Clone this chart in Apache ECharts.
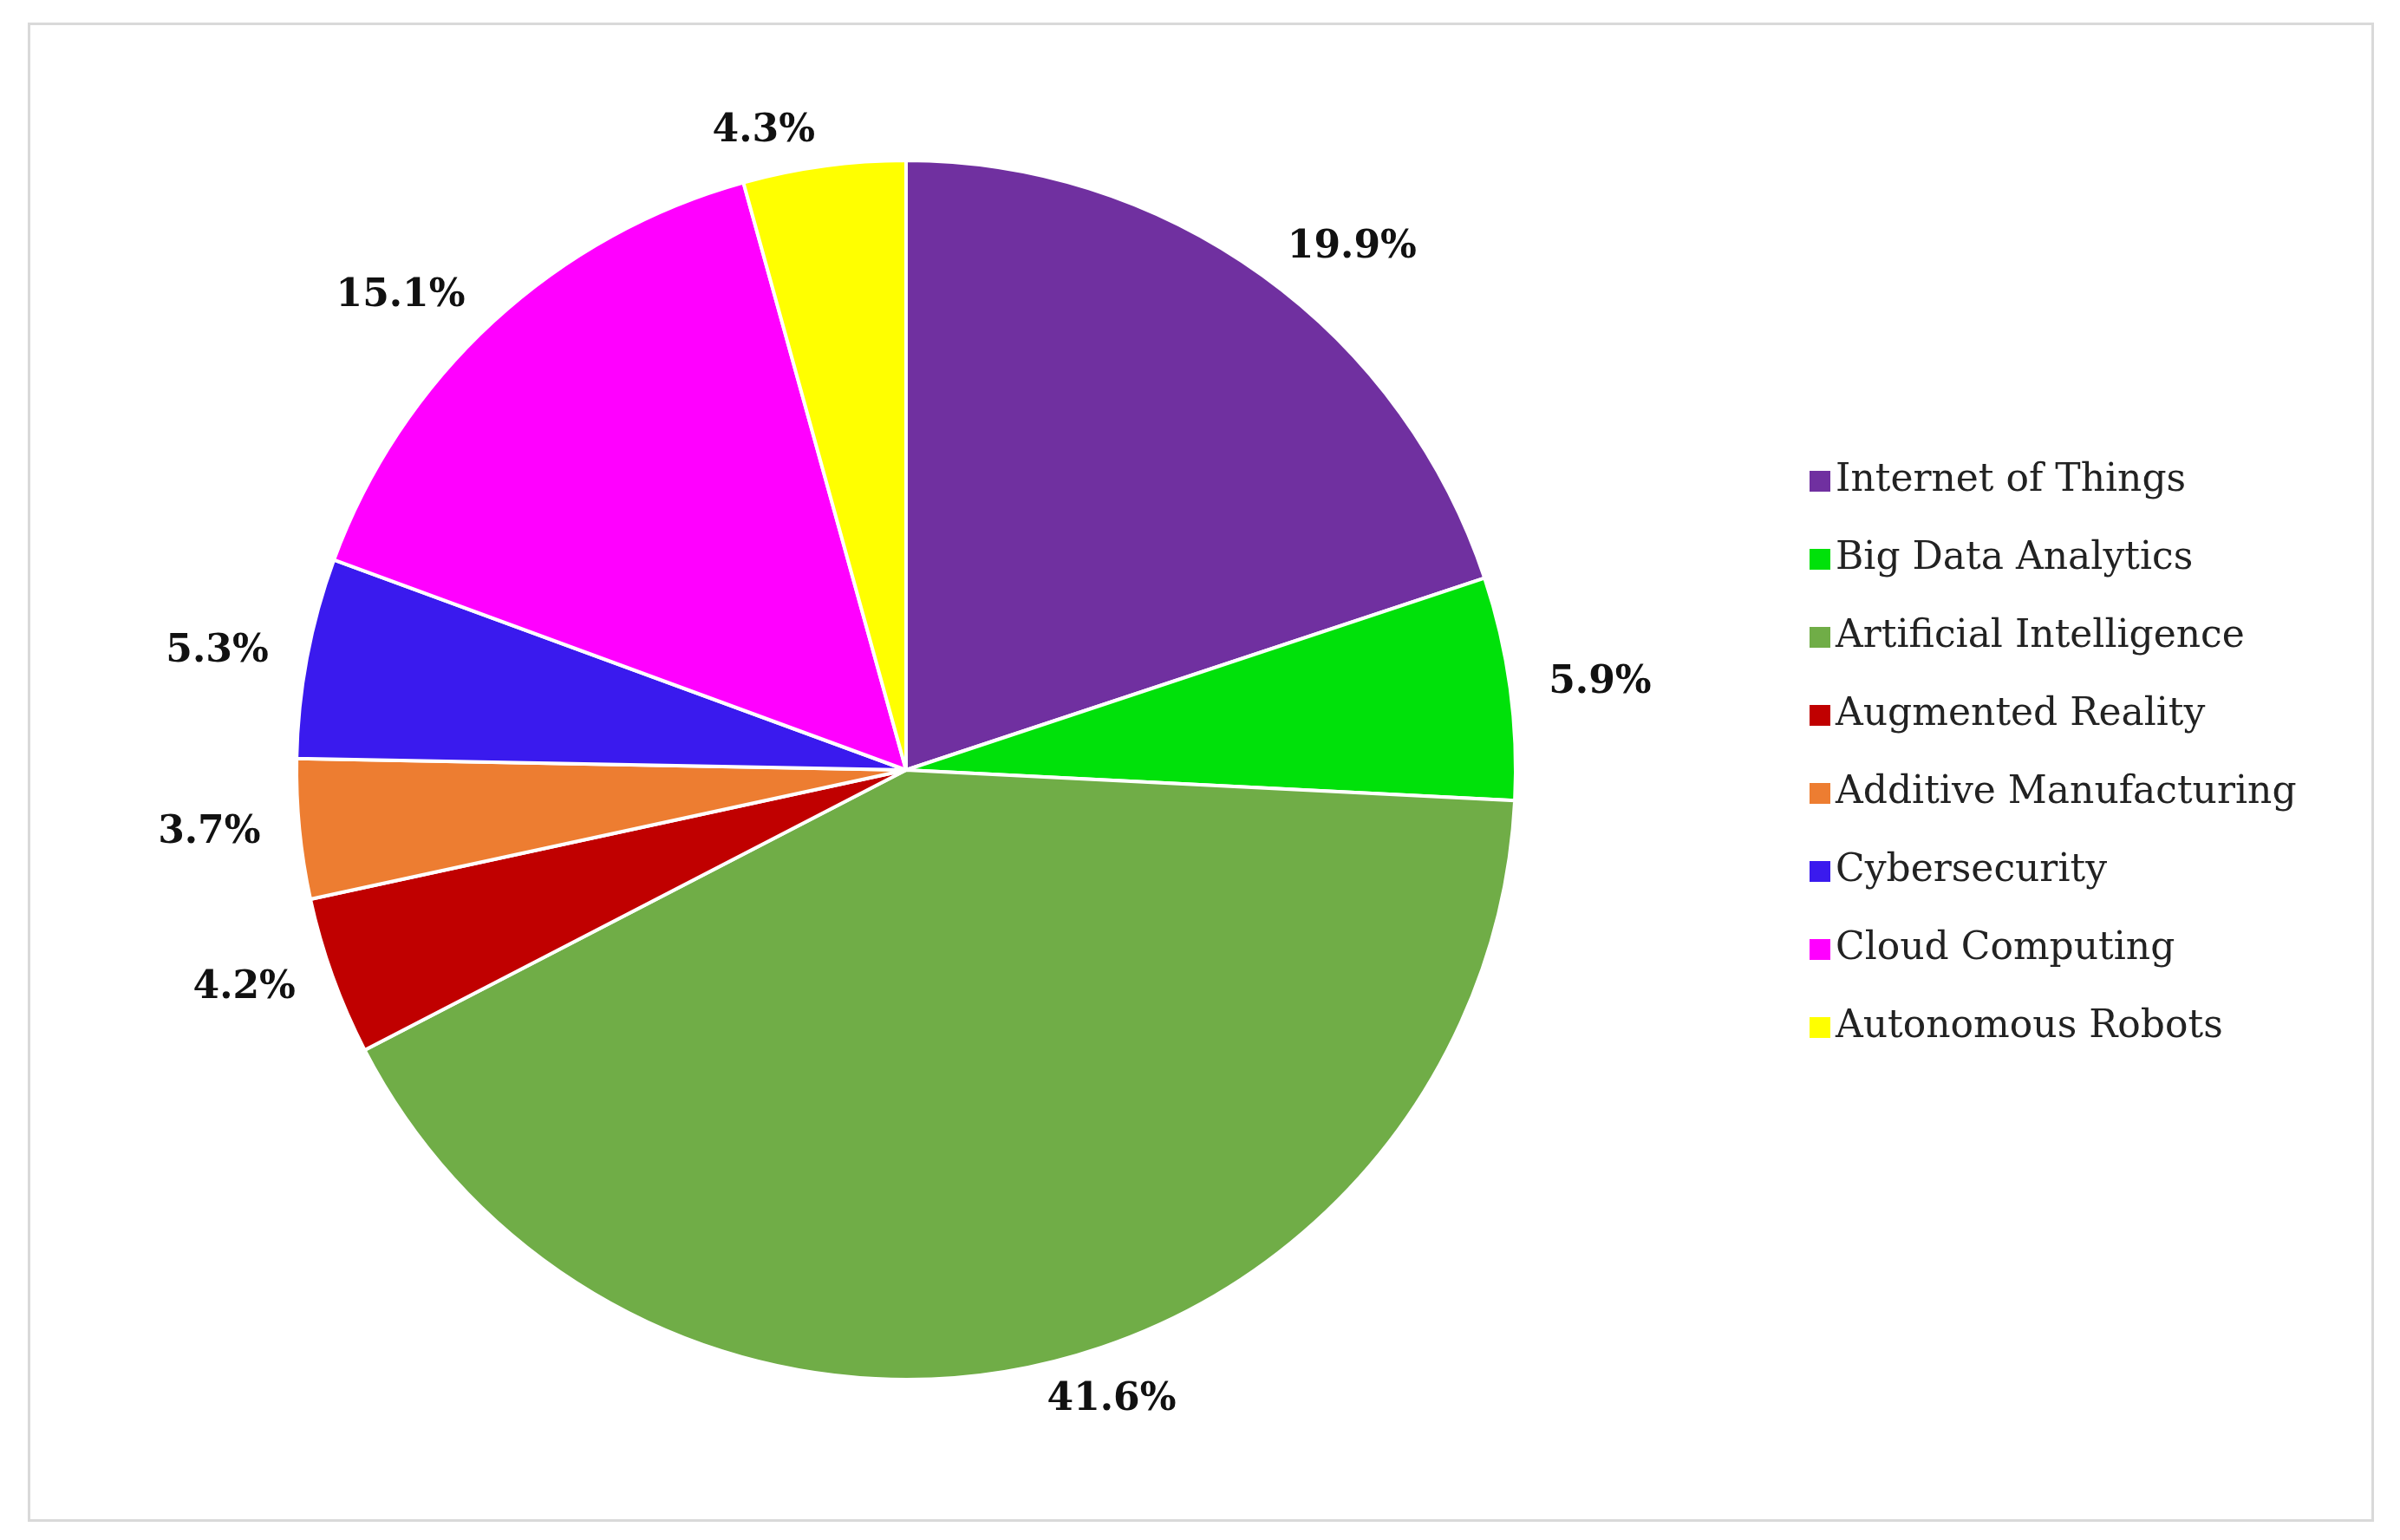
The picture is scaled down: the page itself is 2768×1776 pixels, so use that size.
<!DOCTYPE html>
<html><head><meta charset="utf-8">
<script src="https://cdn.jsdelivr.net/npm/echarts@6/dist/echarts.min.js"></script>
<style>html,body{margin:0;padding:0;background:#fff}#c{width:2768px;height:1776px}
#f{position:absolute;left:32px;top:26px;width:2700px;height:1723px;border:3px solid #d9d9d9;pointer-events:none}</style>
</head><body><div id="c"></div><div id="f"></div>
<script>
const categories=["Internet of Things","Big Data Analytics","Artificial Intelligence","Augmented Reality","Additive Manufacturing","Cybersecurity","Cloud Computing","Autonomous Robots"];
const values=[19.9,5.9,41.6,4.2,3.7,5.3,15.1,4.3];
const colors=["#7030A0","#00E10A","#70AD47","#C00000","#ED7D31","#3A1AEE","#FF00FF","#FFFF00"];
const chart=echarts.init(document.getElementById('c'));
chart.setOption({
 animation:false,
 color:colors,
 legend:{orient:'vertical',left:2080,top:528,itemWidth:26,itemHeight:26,itemGap:46,icon:'rect',
  textStyle:{fontFamily:'DejaVu Serif',fontSize:44,color:'#222'},data:categories},
 series:[{type:'pie',center:[1045,888],radius:703,startAngle:90,clockwise:true,
  itemStyle:{borderColor:'#fff',borderWidth:4},
  label:{show:true,position:'outside',formatter:p=>p.value.toFixed(1)+'%',fontFamily:'DejaVu Serif',fontWeight:'bold',fontSize:44,color:'#111'},
  labelLine:{show:false,length:40,length2:0},
  data:categories.map((n,i)=>({name:n,value:values[i]}))}]
});
</script></body></html>
